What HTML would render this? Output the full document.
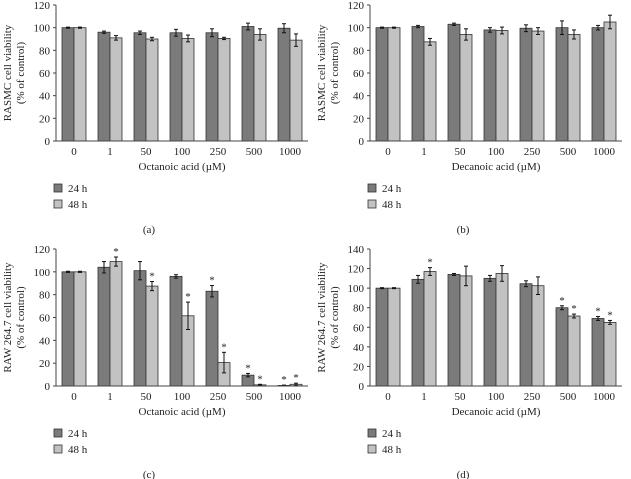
<!DOCTYPE html>
<html><head><meta charset="utf-8">
<style>
body{margin:0;background:#fff;}
svg{display:block;font-family:"Liberation Serif",serif;}
</style></head>
<body>
<svg id="fig" width="631" height="479" viewBox="0 0 631 479"></svg>
<script>
const categories = ["0","1","50","100","250","500","1000"];
const a24 = [100,96,95.5,95.5,95.5,101,99.5];
const a24e = [0.5,1,1.5,3,3.5,3,4];
const a48 = [100,91,90,90.5,90.5,94,89];
const a48e = [0.5,2,1.5,3,1,5,5.5];
const b24 = [100,101,103,98,99.5,100,100];
const b24e = [0.5,1,1,2,3,6,2];
const b48 = [100,87.5,94,97.5,97,94,105];
const b48e = [0.5,3,5,3,3,4,6];
const c24 = [100,104,101,96,83,9.5,0.5];
const c24e = [0.5,5,8,1.5,5,1.5,0.3];
const c48 = [100,109,87.5,61.5,20.5,1,1.5];
const c48e = [0.5,4,4,12,9,0.5,1];
const c24s = [0,0,0,0,1,1,1];
const c48s = [0,1,1,1,1,1,1];
const d24 = [100,109,114,110,104.5,80,69];
const d24e = [0.5,4,1,3,3,2,2];
const d48 = [100,117,112.5,115,102.5,71.5,65];
const d48e = [0.5,4,10,8,9,2,2];
const d24s = [0,0,0,0,0,1,1];
const d48s = [0,1,0,0,0,1,1];
const zeros = [0,0,0,0,0,0,0];

const NS="http://www.w3.org/2000/svg";
const svg=document.getElementById('fig');
function mk(tag,attrs,parent,text){
  const e=document.createElementNS(NS,tag);
  for(const k in attrs)e.setAttribute(k,attrs[k]);
  if(text!==undefined)e.textContent=text;
  (parent||svg).appendChild(e);return e;
}
function panel(id,x0,yTop,yBot,ymax,step,ylab,xlab,s24,e24,s48,e48,st24,st48,letter){
  const g=mk('g',{});
  
  
  const W=252, gw=W/categories.length, bw=12;
  const ys=v=>yBot-(v/ymax)*(yBot-yTop);
  const xs=i=>x0+gw*(i+0.5);
  for(let v=0;v<=ymax;v+=step){
    const t=mk('text',{x:x0-6,y:ys(v)+4,'text-anchor':'end','font-size':11,fill:'#222'},g,v);
    
    
    mk('line',{x1:x0-3,x2:x0,y1:ys(v),y2:ys(v),stroke:'#444'},g);
  }
  const series=[[s24,e24,st24,'#7b7b7b',-1,'bar-24h'],[s48,e48,st48,'#c2c2c2',0,'bar-48h']];
  categories.forEach((c,i)=>{
    series.forEach(s=>{
      const v=s[0][i],e=s[1][i];
      const bx=xs(i)+s[4]*bw;
      const r=mk('rect',{x:bx,y:ys(v),width:bw,height:yBot-ys(v),fill:s[3],stroke:'#333','stroke-width':0.8},g);
      
      
      const cx=bx+bw/2;
      mk('line',{x1:cx,x2:cx,y1:ys(v+e),y2:ys(Math.max(0,v-e)),stroke:'#111','stroke-width':1},g);
      mk('line',{x1:cx-2,x2:cx+2,y1:ys(v+e),y2:ys(v+e),stroke:'#111'},g);
      mk('line',{x1:cx-2,x2:cx+2,y1:ys(Math.max(0,v-e)),y2:ys(Math.max(0,v-e)),stroke:'#111'},g);
      if(s[2][i]){
        const st=mk('text',{x:cx,y:ys(v+e)-2,'text-anchor':'middle','font-size':11,fill:'#222'},g,'*');
        
        
      }
    });
    const t=mk('text',{x:xs(i),y:yBot+14,'text-anchor':'middle','font-size':11,fill:'#222'},g,c);
    
    
  });
  mk('line',{x1:x0,x2:x0,y1:yTop,y2:yBot,stroke:'#444'},g);
  mk('line',{x1:x0,x2:x0+W,y1:yBot,y2:yBot,stroke:'#444'},g);
  const xt=mk('text',{x:x0+W/2,y:yBot+29,'text-anchor':'middle','font-size':11,fill:'#222'},g,xlab);
  
  
  const cy=(yTop+yBot)/2;
  const yt=mk('text',{transform:`translate(${x0-44},${cy}) rotate(-90)`,'text-anchor':'middle','font-size':11,fill:'#222'},g);
  
  
  mk('tspan',{x:0,dy:-1},yt,ylab);
  mk('tspan',{x:0,dy:13},yt,'(% of control)');
  [['24 h','#7b7b7b',0],['48 h','#c2c2c2',1]].forEach(l=>{
    const ly=yBot+47+l[2]*16;
    const lg=mk('g',{},g);
    
    
    mk('rect',{x:x0-2,y:ly-4,width:8,height:8,fill:l[1],stroke:'#333','stroke-width':0.8},lg);
    mk('text',{x:x0+12,y:ly+4,'font-size':11,fill:'#222'},lg,l[0]);
  });
  const pl=mk('text',{x:x0+93,y:yBot+92,'text-anchor':'middle','font-size':11,fill:'#222'},g,'('+letter+')');
  
  
}
panel('a',56,5,141,120,20,'RASMC cell viability','Octanoic acid (µM)',a24,a24e,a48,a48e,zeros,zeros,'a');
panel('b',370,5,141,120,20,'RASMC cell viability','Decanoic acid (µM)',b24,b24e,b48,b48e,zeros,zeros,'b');
panel('c',56,249,386,120,20,'RAW 264.7 cell viability','Octanoic acid (µM)',c24,c24e,c48,c48e,c24s,c48s,'c');
panel('d',370,249,386,140,20,'RAW 264.7 cell viability','Decanoic acid (µM)',d24,d24e,d48,d48e,d24s,d48s,'d');
</script>
</body></html>
